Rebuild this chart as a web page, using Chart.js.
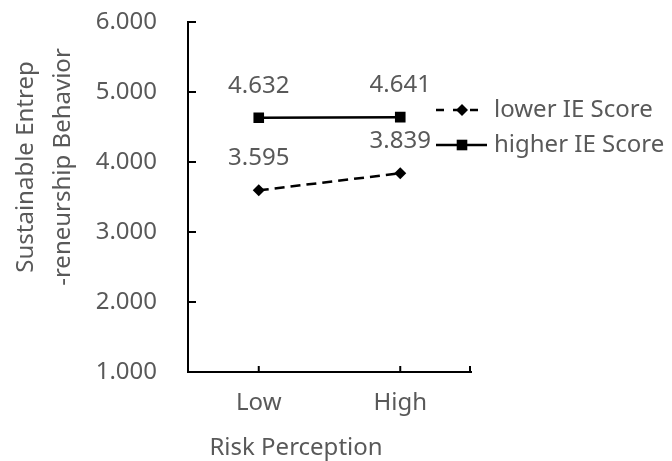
<!DOCTYPE html>
<html>
<head>
<meta charset="utf-8">
<title>Risk Perception x IE Score</title>
<script src="https://cdn.jsdelivr.net/npm/chart.js@4.4.1/dist/chart.umd.min.js"></script>
<style>
  html, body { margin: 0; padding: 0; background: #fff; }
  #wrap { width: 672px; height: 461px; position: relative; }
</style>
</head>
<body>
<div id="wrap"><canvas id="interactionChart"></canvas></div>
<script>
// =========================
// DATA
// =========================
const categories = ['Low', 'High'];
const seriesNames = ['lower IE Score', 'higher IE Score'];
const lowerScores = [3.595, 3.839];
const higherScores = [4.632, 4.641];
const yTicks = [1, 2, 3, 4, 5, 6];

const yTitleLines = ['Sustainable Entrep', '-reneurship Behavior'];
const xTitle = 'Risk Perception';

const FONT = '"Noto Sans", "DejaVu Sans", sans-serif';
const TEXT_GREY = '#595959';

// =========================
// EXTRA DRAWING (ticks, labels, legend, titles)
// =========================
const excelLook = {
  id: 'excelLook',
  afterDatasetsDraw(chart) {
    const ctx = chart.ctx;
    const area = chart.chartArea;
    const xs = chart.scales.x;
    const ys = chart.scales.y;

    ctx.save();
    ctx.strokeStyle = '#000';
    ctx.lineWidth = 2;

    // inward tick marks on the y axis
    ys.ticks.forEach(t => {
      const py = Math.round(ys.getPixelForValue(t.value));
      ctx.beginPath();
      ctx.moveTo(area.left, py);
      ctx.lineTo(area.left + 8, py);
      ctx.stroke();
    });

    // inward tick marks on the x axis
    const xPos = categories.map((c, i) => xs.getPixelForValue(i));
    xPos.push(area.right - 1);
    xPos.forEach(px => {
      ctx.beginPath();
      ctx.moveTo(px, area.bottom);
      ctx.lineTo(px, area.bottom - 6);
      ctx.stroke();
    });

    // value labels above points
    ctx.fillStyle = TEXT_GREY;
    ctx.font = '24px ' + FONT;
    ctx.textAlign = 'center';
    ctx.textBaseline = 'middle';
    chart.data.datasets.forEach((ds, di) => {
      chart.getDatasetMeta(di).data.forEach((pt, i) => {
        ctx.fillText(ds.data[i].toFixed(3), pt.x, pt.y - 32);
      });
    });

    // legend
    chart.data.datasets.forEach((ds, di) => {
      const ly = 110 + di * 35;
      ctx.strokeStyle = '#000';
      ctx.lineWidth = ds.borderWidth;
      ctx.setLineDash(di === 0 ? [8, 9] : []);
      ctx.beginPath();
      ctx.moveTo(436, ly);
      ctx.lineTo(487, ly);
      ctx.stroke();
      ctx.setLineDash([]);
      ctx.fillStyle = '#000';
      ctx.beginPath();
      if (ds.pointStyle === 'rectRot') {
        const r = ds.pointRadius;
        ctx.moveTo(462, ly - r);
        ctx.lineTo(462 + r, ly);
        ctx.lineTo(462, ly + r);
        ctx.lineTo(462 - r, ly);
        ctx.closePath();
      } else {
        const s = ds.pointRadius * Math.SQRT1_2;
        ctx.rect(462 - s, ly - s, 2 * s, 2 * s);
      }
      ctx.fill();

      ctx.fillStyle = TEXT_GREY;
      ctx.textAlign = 'left';
      ctx.textBaseline = 'middle';
      ctx.fillText(ds.label, 494, ly);
    });

    // axis titles
    ctx.fillStyle = TEXT_GREY;
    ctx.textAlign = 'center';
    ctx.textBaseline = 'alphabetic';
    ctx.fillText(xTitle, 296, 455);

    [33, 70].forEach((bx, i) => {
      ctx.save();
      ctx.translate(bx, 167);
      ctx.rotate(-Math.PI / 2);
      ctx.fillText(yTitleLines[i], 0, 0);
      ctx.restore();
    });

    ctx.restore();
  }
};

// =========================
// CHART
// =========================
const ctx = document.getElementById('interactionChart').getContext('2d');

new Chart(ctx, {
  type: 'line',
  data: {
    labels: categories,
    datasets: [
      {
        label: seriesNames[0],
        data: lowerScores,
        borderColor: '#000',
        backgroundColor: '#000',
        borderWidth: 2.5,
        borderDash: [10, 6],
        pointStyle: 'rectRot',
        pointRadius: 6,
        pointBorderWidth: 0,
        pointBackgroundColor: '#000',
        tension: 0
      },
      {
        label: seriesNames[1],
        data: higherScores,
        borderColor: '#000',
        backgroundColor: '#000',
        borderWidth: 2.5,
        pointStyle: 'rect',
        pointRadius: 7.5,
        pointBorderWidth: 0,
        pointBackgroundColor: '#000',
        tension: 0
      }
    ]
  },
  options: {
    responsive: true,
    maintainAspectRatio: false,
    animation: false,
    layout: {
      padding: { left: 95, right: 201, top: 22, bottom: 0 }
    },
    plugins: {
      legend: { display: false },
      tooltip: { enabled: false }
    },
    scales: {
      x: {
        type: 'category',
        offset: true,
        grid: { display: true, drawOnChartArea: false, drawTicks: false },
        border: { display: true, color: '#000', width: 2 },
        ticks: {
          color: TEXT_GREY,
          font: { family: FONT, size: 24 },
          padding: 17
        },
        afterFit(scale) {
          scale.height = 89;
          scale.paddingLeft = 0;
          scale.paddingRight = 0;
        }
      },
      y: {
        min: yTicks[0],
        max: yTicks[yTicks.length - 1],
        afterBuildTicks(scale) {
          scale.ticks = yTicks.map(v => ({ value: v }));
        },
        grid: { display: true, drawOnChartArea: false, drawTicks: false },
        border: { display: true, color: '#000', width: 2 },
        ticks: {
          color: TEXT_GREY,
          font: { family: FONT, size: 24 },
          padding: 31,
          callback: v => Number(v).toFixed(3)
        },
        afterFit(scale) {
          scale.width = 93;
          scale.paddingTop = 0;
          scale.paddingBottom = 0;
        }
      }
    }
  },
  plugins: [excelLook]
});
</script>
</body>
</html>
